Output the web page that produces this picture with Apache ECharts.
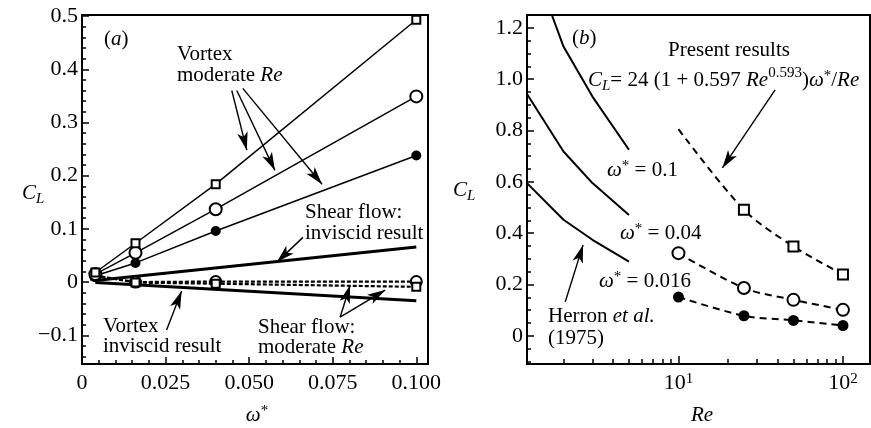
<!DOCTYPE html>
<html>
<head>
<meta charset="utf-8">
<script src="https://cdn.jsdelivr.net/npm/echarts@6/dist/echarts.min.js"></script>
<style>
html,body{margin:0;padding:0;background:#fff;}
#main{width:871px;height:428px;}
</style>
</head>
<body>
<div id="main"></div>
<script>
// (a) lift coefficient against omega*
var omegaA = [0.004, 0.016, 0.04, 0.1];
var vortexSquare = [0.018, 0.073, 0.184, 0.493];
var vortexCircle = [0.015, 0.055, 0.137, 0.349];
var vortexDot = [0.012, 0.036, 0.096, 0.238];
var shearCircle = [0.012, 0.0, 0.001, 0.001];
var shearSquare = [0.012, -0.001, -0.003, -0.009];
var omegaInviscid = [0.004, 0.1];
var shearInviscid = [0.003, 0.066];
var vortexInviscid = [-0.001, -0.035];

// (b) lift coefficient against Re
var reHerronTop = [1.7, 2, 3, 5];
var clHerron01 = [1.25, 1.127, 0.932, 0.725];
var reHerron = [1.2, 2, 3, 5];
var clHerron004 = [0.942, 0.718, 0.595, 0.471];
var clHerron0016 = [0.595, 0.452, 0.374, 0.289];
var rePresent = [10, 25, 50, 100];
var clPresent01 = [0.805, 0.491, 0.348, 0.239];
var clPresent004 = [0.322, 0.186, 0.140, 0.101];
var clPresent0016 = [0.151, 0.078, 0.060, 0.040];

// tick labels
var xTicksA = [0, 0.025, 0.05, 0.075, 0.1];
var xLabelsA = ['0', '0.025', '0.050', '0.075', '0.100'];
var yTicksA = [-0.1, 0, 0.1, 0.2, 0.3, 0.4, 0.5];
var yLabelsA = ['\u22120.1', '0', '0.1', '0.2', '0.3', '0.4', '0.5'];
var yTicksB = [0, 0.2, 0.4, 0.6, 0.8, 1.0, 1.2];
var yLabelsB = ['0', '0.2', '0.4', '0.6', '0.8', '1.0', '1.2'];
var xTicksB = [10, 100];
var xLabelsB = ['10{s|1}', '10{s|2}'];

// arrows, [from, to] in data units
var arrowsA = [
    [[0.0448, 0.360], [0.0493, 0.248]],
    [[0.0463, 0.360], [0.0577, 0.210]],
    [[0.0481, 0.364], [0.0718, 0.184]],
    [[0.0661, 0.084], [0.0583, 0.0375]],
    [[0.0253, -0.090], [0.0298, -0.017]],
    [[0.0772, -0.066], [0.0802, -0.006]],
    [[0.0772, -0.066], [0.0907, -0.015]]
];
var arrowsB = [
    [[38.7, 0.958], [18.5, 0.654]],
    [[2.05, 0.132], [2.63, 0.354]]
];

var FONT = 'Liberation Serif';

function pairs(xs, ys) {
    var out = [];
    for (var i = 0; i < xs.length; i++) out.push([xs[i], ys[i]]);
    return out;
}
function minorTicks(from, to, step, majors) {
    var out = [];
    for (var v = from; v <= to + 1e-9; v += step) {
        var r = Math.round(v * 1000) / 1000;
        var isMajor = false;
        for (var j = 0; j < majors.length; j++) if (Math.abs(majors[j] - r) < 1e-6) isMajor = true;
        if (!isMajor) out.push(r);
    }
    return out;
}
function labelOf(ticks, labels) {
    return function (v) {
        for (var i = 0; i < ticks.length; i++) if (Math.abs(ticks[i] - v) < 1e-6 * Math.max(1, Math.abs(v))) return labels[i];
        return '';
    };
}
var logMinor = [2, 3, 4, 5, 6, 7, 8, 9, 20, 30, 40, 50, 60, 70, 80, 90];

var rich = {
    n: {fontFamily: FONT, fontSize: 21, color: '#000', lineHeight: 28, verticalAlign: 'middle'},
    i: {fontFamily: FONT, fontSize: 21, fontStyle: 'italic', color: '#000', lineHeight: 28, verticalAlign: 'middle'},
    sub: {fontFamily: FONT, fontSize: 15, fontStyle: 'italic', color: '#000', lineHeight: 28, verticalAlign: 'bottom'},
    sup: {fontFamily: FONT, fontSize: 15, color: '#000', lineHeight: 28, verticalAlign: 'top'},
    st: {fontFamily: FONT, fontSize: 15, color: '#000', lineHeight: 28, verticalAlign: 'top', padding: [3, 0, 0, 0]}
};
function txt(x, y, text, align) {
    return {
        type: 'text', x: x, y: y, silent: true,
        style: {text: text, rich: rich, align: align || 'left', verticalAlign: 'middle', fontFamily: FONT, fontSize: 21, fill: '#000'}
    };
}

function axisX(grid, type, min, max, ticks, len, labels) {
    var ax = {
        type: type, gridIndex: grid, min: min, max: max, position: 'bottom',
        axisLine: {show: true, onZero: false, lineStyle: {color: '#000', width: 2}},
        axisTick: {show: true, inside: true, length: len, customValues: ticks, lineStyle: {color: '#000', width: 1.5}},
        axisLabel: {show: false},
        splitLine: {show: false}
    };
    if (type === 'log') ax.logBase = 10;
    if (labels) {
        ax.axisLabel = {show: true, customValues: ticks, formatter: labels, margin: 8,
            fontFamily: FONT, fontSize: 22, color: '#000',
            rich: {s: {fontFamily: FONT, fontSize: 15, color: '#000', verticalAlign: 'top', lineHeight: 15}}};
    }
    return ax;
}
function axisY(grid, min, max, ticks, len, labels) {
    var ax = {
        type: 'value', gridIndex: grid, min: min, max: max, position: 'left',
        axisLine: {show: true, onZero: false, lineStyle: {color: '#000', width: 2}},
        axisTick: {show: true, inside: true, length: len, customValues: ticks, lineStyle: {color: '#000', width: 1.5}},
        axisLabel: {show: false},
        splitLine: {show: false}
    };
    if (labels) {
        ax.axisLabel = {show: true, customValues: ticks, formatter: labels, margin: 4,
            fontFamily: FONT, fontSize: 22, color: '#000'};
    }
    return ax;
}

function lineSeries(x, y, data, opt) {
    var s = {
        type: 'line', xAxisIndex: x, yAxisIndex: y, data: data,
        symbol: opt.symbol || 'none', symbolSize: opt.size || 8, showSymbol: !!opt.symbol,
        smooth: opt.smooth || false,
        lineStyle: {color: '#000', width: opt.width || 1.5, type: opt.dash || 'solid'},
        itemStyle: {color: '#000', borderWidth: opt.border || 2},
        emphasis: {disabled: true}, silent: true, z: opt.z || 2
    };
    return s;
}
function arrowLines(list) {
    var d = [];
    for (var i = 0; i < list.length; i++) {
        d.push([{coord: list[i][0], symbol: 'none'},
            {coord: list[i][1], symbol: 'arrow', symbolSize: [8, 18]}]);
    }
    return {silent: true, animation: false, symbol: ['none', 'arrow'], label: {show: false},
        lineStyle: {color: '#000', width: 1.4, type: 'solid'}, emphasis: {disabled: true}, data: d};
}

var seriesList = [];
var s1 = lineSeries(0, 0, pairs(omegaInviscid, shearInviscid), {width: 3});
s1.markLine = arrowLines(arrowsA);
seriesList.push(s1);
seriesList.push(lineSeries(0, 0, pairs(omegaInviscid, vortexInviscid), {width: 3}));
seriesList.push(lineSeries(0, 0, pairs(omegaA, shearCircle), {symbol: 'emptyCircle', size: 11, dash: [4, 2], width: 2.2}));
seriesList.push(lineSeries(0, 0, pairs(omegaA, shearSquare), {symbol: 'emptyRect', size: 8, dash: [4, 2], width: 2.2}));
seriesList.push(lineSeries(0, 0, pairs(omegaA, vortexDot), {symbol: 'circle', size: 10}));
seriesList.push(lineSeries(0, 0, pairs(omegaA, vortexCircle), {symbol: 'emptyCircle', size: 12}));
seriesList.push(lineSeries(0, 0, pairs(omegaA, vortexSquare), {symbol: 'emptyRect', size: 8}));

var s2 = lineSeries(2, 2, pairs(reHerronTop, clHerron01), {width: 2});
s2.markLine = arrowLines(arrowsB);
seriesList.push(s2);
seriesList.push(lineSeries(2, 2, pairs(reHerron, clHerron004), {width: 2}));
seriesList.push(lineSeries(2, 2, pairs(reHerron, clHerron0016), {width: 2}));
var top01 = pairs(rePresent, clPresent01);
top01[0] = {value: top01[0], symbol: 'none'};
seriesList.push(lineSeries(2, 2, top01, {symbol: 'emptyRect', size: 10, dash: [7, 5], width: 2, smooth: 0.3, border: 2.5}));
seriesList.push(lineSeries(2, 2, pairs(rePresent, clPresent004), {symbol: 'emptyCircle', size: 12, dash: [7, 5], width: 2, smooth: 0.3, border: 2.5}));
seriesList.push(lineSeries(2, 2, pairs(rePresent, clPresent0016), {symbol: 'circle', size: 11, dash: [7, 5], width: 2, smooth: 0.3}));

var gridStyle = {show: true, borderColor: '#000', borderWidth: 2, backgroundColor: 'transparent'};
var option = {
    animation: false,
    backgroundColor: '#fff',
    grid: [
        Object.assign({left: 82, top: 15, width: 346, height: 349}, gridStyle),
        Object.assign({left: 527, top: 15, width: 343, height: 349}, gridStyle)
    ],
    xAxis: [
        axisX(0, 'value', 0, 0.1035, xTicksA, 7, labelOf(xTicksA, xLabelsA)),
        axisX(0, 'value', 0, 0.1035, minorTicks(0, 0.1, 0.005, xTicksA), 4),
        axisX(1, 'log', 1.2, 146, xTicksB, 8, labelOf(xTicksB, xLabelsB)),
        axisX(1, 'log', 1.2, 146, logMinor, 5)
    ],
    yAxis: [
        axisY(0, -0.154, 0.502, yTicksA, 7, labelOf(yTicksA, yLabelsA)),
        axisY(0, -0.154, 0.502, minorTicks(-0.14, 0.5, 0.02, yTicksA), 4),
        axisY(1, -0.11, 1.25, yTicksB, 7, labelOf(yTicksB, yLabelsB)),
        axisY(1, -0.11, 1.25, minorTicks(-0.1, 1.25, 0.05, yTicksB), 4)
    ],
    series: seriesList,
    graphic: [
        // panel (a)
        txt(104, 39, '{n|(}{i|a}{n|)}'),
        txt(177, 54, '{n|Vortex}'),
        txt(177, 75, '{n|moderate }{i|Re}'),
        txt(305, 212, '{n|Shear flow:}'),
        txt(305, 233, '{n|inviscid result}'),
        txt(103, 326, '{n|Vortex}'),
        txt(103, 346, '{n|inviscid result}'),
        txt(258, 327, '{n|Shear flow:}'),
        txt(258, 347, '{n|moderate }{i|Re}'),
        txt(22, 193, '{i|C}{sub|L}'),
        txt(257, 415, '{i|\u03c9}{st|*}', 'center'),
        // panel (b)
        txt(572, 38, '{n|(}{i|b}{n|)}'),
        txt(668, 50, '{n|Present results}'),
        txt(588, 80, '{i|C}{sub|L}{n|= 24 (1 + 0.597 }{i|Re}{sup|0.593}{n|)}{i|\u03c9}{st|*}{n|/}{i|Re}'),
        txt(607, 170, '{i|\u03c9}{st|*}{n| = 0.1}'),
        txt(620, 233, '{i|\u03c9}{st|*}{n| = 0.04}'),
        txt(599, 281, '{i|\u03c9}{st|*}{n| = 0.016}'),
        txt(548, 316, '{n|Herron }{i|et al.}'),
        txt(548, 338, '{n|(1975)}'),
        txt(453, 190, '{i|C}{sub|L}'),
        txt(702, 415, '{i|Re}', 'center')
    ]
};

var chart = echarts.init(document.getElementById('main'));
chart.setOption(option);
</script>
</body>
</html>
